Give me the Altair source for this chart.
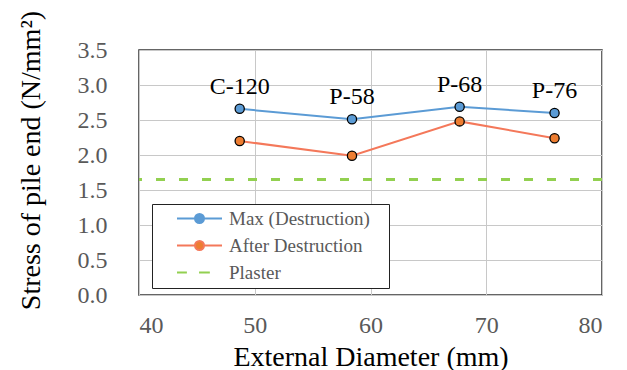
import altair as alt
import pandas as pd

# ---- data ----
pile_labels = ["C-120", "P-58", "P-68", "P-76"]
external_diameter = [48.7, 58.4, 67.7, 75.9]
max_destruction = [2.66, 2.51, 2.69, 2.60]
after_destruction = [2.20, 1.99, 2.48, 2.24]
plaster_level = [1.65]
series_names = ["Max (Destruction)", "After Destruction", "Plaster"]
marker_colors = ["#5b9bd5", "#ed7d31", "#92d050"]
line_colors = ["#5b9bd5", "#f4785a", "#92d050"]
x_ticks = [40, 50, 60, 70, 80]
y_ticks = [0.0, 0.5, 1.0, 1.5, 2.0, 2.5, 3.0, 3.5]

FONT = "Liberation Serif, DejaVu Serif, serif"

rows = []
for lab, d, m, a in zip(pile_labels, external_diameter, max_destruction, after_destruction):
    rows.append({"label": lab, "d": d, "v": m, "series": series_names[0]})
    rows.append({"label": lab, "d": d, "v": a, "series": series_names[1]})
df = pd.DataFrame(rows)
df_max = df[df["series"] == series_names[0]]
df_after = df[df["series"] == series_names[1]]
df_plaster = pd.DataFrame({"v": plaster_level})
# legend-only rows, placed beyond the x domain and clipped away
df_legend = pd.DataFrame({"series": series_names,
                          "d": [100.0] * 3,
                          "v": [max_destruction[0]] * 3})

x_enc = alt.X("d:Q", scale=alt.Scale(domain=[40, 80], nice=False),
              axis=alt.Axis(values=x_ticks, title="External Diameter (mm)",
                            labelPadding=18, titlePadding=6))
y_enc = alt.Y("v:Q", scale=alt.Scale(domain=[0, 3.5], nice=False),
              axis=alt.Axis(values=y_ticks, format=".1f", labelOverlap=False,
                            title="Stress of pile end (N/mm²)",
                            labelPadding=32, titlePadding=32, titleY=110))
color_enc = alt.Color("series:N",
                      scale=alt.Scale(domain=series_names[:2], range=line_colors[:2]),
                      legend=None)

lines = alt.Chart(df).mark_line(strokeWidth=2).encode(x=x_enc, y=y_enc, color=color_enc)
points_max = alt.Chart(df_max).mark_point(filled=True, size=85, fill=marker_colors[0],
                                          stroke="black", strokeWidth=1.3, opacity=1
                                          ).encode(x=x_enc, y=y_enc)
points_after = alt.Chart(df_after).mark_point(filled=True, size=85, fill=marker_colors[1],
                                              stroke="black", strokeWidth=1.3, opacity=1
                                              ).encode(x=x_enc, y=y_enc)
plaster = alt.Chart(df_plaster).mark_rule(color="#92d050", strokeWidth=3,
                                          strokeDash=[9, 14]).encode(y=y_enc)
texts = alt.Chart(df_max).mark_text(font=FONT, fontSize=24, dy=-22, color="black").encode(
    x=x_enc, y=y_enc, text="label:N")

line_circle = "M-5,0H-1M1,0H5M1,0A1,1,0,1,1,-1,0A1,1,0,1,1,1,0Z"
dash_path = "M-5,0H-2.8M-0.1,0H2.3"
leg = alt.Legend(title=None, orient="none", legendX=13, legendY=154,
                 strokeColor="#222222", fillColor="white", padding=5,
                 labelFont=FONT, labelFontSize=19, labelColor="#595959",
                 symbolSize=81, symbolStrokeWidth=2, rowPadding=7,
                 symbolOffset=33, labelOffset=20,
                 labelExpr="datum.label + '\u2800'")
legend_layer = alt.Chart(df_legend).mark_point(filled=True, clip=True, opacity=1).encode(
    x=x_enc, y=y_enc,
    fill=alt.Fill("series:N", scale=alt.Scale(domain=series_names, range=marker_colors), legend=leg),
    stroke=alt.Stroke("series:N", scale=alt.Scale(domain=series_names, range=line_colors), legend=leg),
    shape=alt.Shape("series:N", scale=alt.Scale(domain=series_names,
                                                range=[line_circle, line_circle, dash_path]), legend=leg),
)

chart = alt.layer(lines, plaster, points_max, points_after, texts, legend_layer).properties(
    width=463, height=245,
    padding={"left": 8, "top": 2, "right": 5, "bottom": 5},
).configure_view(
    stroke="#333333", strokeWidth=1.5
).configure_axis(
    grid=True, gridColor="#c8c8c8", gridWidth=1, domain=False, ticks=False,
    labelFont=FONT, labelFontSize=24, labelColor="#595959",
    titleFont=FONT, titleFontSize=28, titleFontWeight="normal", titleColor="black",
)

chart.save("out.html", embed_options={"renderer": "svg", "actions": False})
